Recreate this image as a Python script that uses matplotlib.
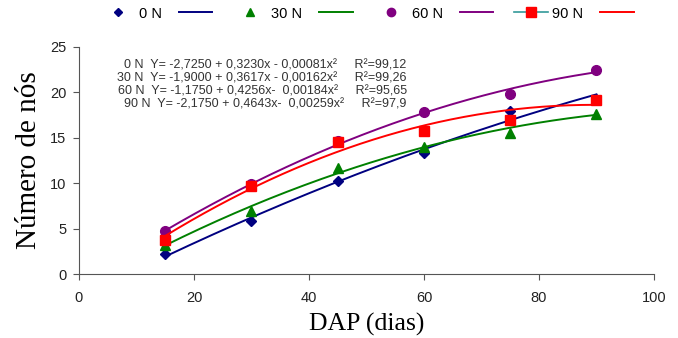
import matplotlib.pyplot as plt
from matplotlib.lines import Line2D
import numpy as np

dap = [15, 30, 45, 60, 75, 90]
n0 = [2.2, 5.8, 10.2, 13.3, 18.0, 19.3]
n30 = [3.2, 7.0, 11.7, 14.0, 15.5, 17.6]
n60 = [4.7, 9.9, 14.7, 17.8, 19.8, 22.5]
n90 = [3.8, 9.7, 14.5, 15.7, 17.0, 19.2]

# regression coefficients as printed on the chart (c0, c1, c2)
coef0 = [-2.7250, 0.3230, -0.00081]
coef30 = [-1.9000, 0.3617, -0.00162]
coef60 = [-1.1750, 0.4256, -0.00184]
coef90 = [-2.1750, 0.4643, -0.00259]

labels = ['0 N', '30 N', '60 N', '90 N']
equations = [
    '0 N  Y= -2,7250 + 0,3230x - 0,00081x\u00b2     R\u00b2=99,12',
    '30 N  Y= -1,9000 + 0,3617x - 0,00162x\u00b2     R\u00b2=99,26',
    '60 N  Y= -1,1750 + 0,4256x-  0,00184x\u00b2     R\u00b2=95,65',
    '90 N  Y= -2,1750 + 0,4643x-  0,00259x\u00b2     R\u00b2=97,9',
]

series = [n0, n30, n60, n90]
coefs = [coef0, coef30, coef60, coef90]
colors = ['#000080', '#008000', '#800080', '#ff0000']
markers = ['D', '^', 'o', 's']
msizes = [5, 7, 7, 7]

fig = plt.figure(figsize=(6.78, 3.38), dpi=100)
ax = fig.add_axes([0.1165, 0.189, 0.848, 0.672])

xs = np.linspace(dap[0], dap[-1], 200)
for y, c, col, m, ms in zip(series, coefs, colors, markers, msizes):
    ax.plot(xs, np.polyval(c[::-1], xs), color=col, lw=1.4)
    ax.plot(dap, y, ls='none', marker=m, color=col, ms=ms)

ax.set_xlim(0, 100)
ax.set_ylim(0, 25)
ax.set_xticks(range(0, 101, 20))
ax.set_yticks(range(0, 26, 5))
for s in ['top', 'right']:
    ax.spines[s].set_visible(False)
for s in ['left', 'bottom']:
    ax.spines[s].set_color('#555555')
ax.tick_params(direction='out', length=4, color='#555555', labelsize=10.5,
               labelcolor='#222222')
ax.tick_params(axis='x', pad=8)
ax.tick_params(axis='y', pad=5)
for t in ax.get_xticklabels() + ax.get_yticklabels():
    t.set_family('Liberation Sans')

ax.set_xlabel('DAP (dias)', family='Liberation Serif', fontsize=18.5, labelpad=6)
ax.set_ylabel('Número de nós', family='Liberation Serif', fontsize=21, labelpad=6)

ax.text(0.570, 0.945, '\n'.join(equations), transform=ax.transAxes,
        ha='right', va='top', fontsize=9, family='Liberation Sans',
        color='#333333', linespacing=1.1)

handles = []
leg_labels = []
for i, (col, m, ms) in enumerate(zip(colors, markers, msizes)):
    if i == 3:
        handles.append(Line2D([], [], color='#339999', lw=1.2, marker=m,
                              markersize=ms, markerfacecolor=col, markeredgecolor=col))
    else:
        handles.append(Line2D([], [], ls='none', marker=m, color=col, markersize=ms - 1))
    leg_labels.append(labels[i])
    handles.append(Line2D([], [], color=col, lw=1.4))
    leg_labels.append('')

leg = fig.legend(handles, leg_labels, loc='center', bbox_to_anchor=(0.545, 0.96),
                 ncol=8, frameon=False, handlelength=2.3,
                 handletextpad=0.3, columnspacing=1.15,
                 prop={'family': 'Liberation Sans', 'size': 10.5})

fig.savefig('out.png', dpi=100)
